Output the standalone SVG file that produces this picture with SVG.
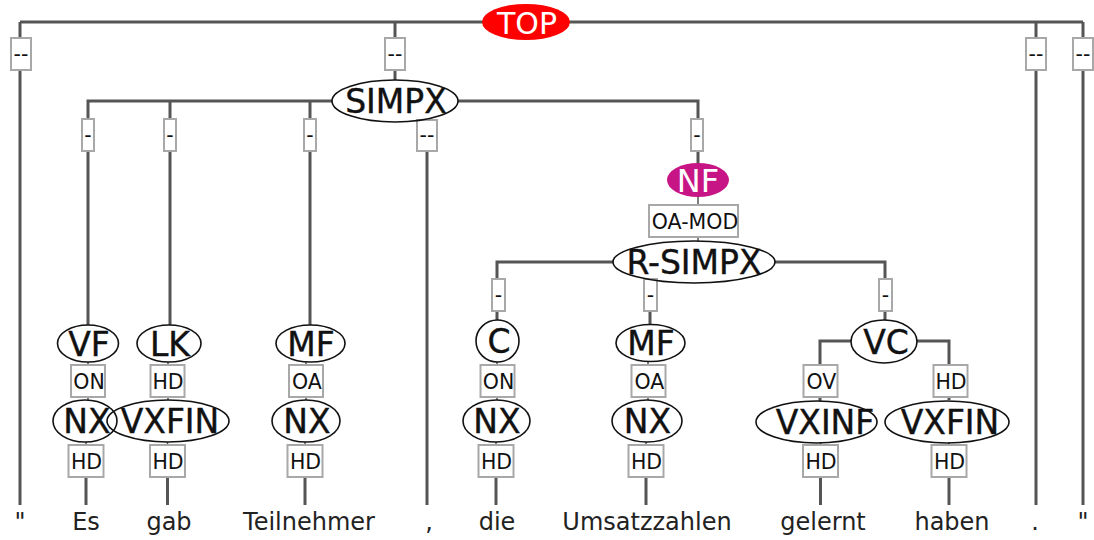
<svg xmlns="http://www.w3.org/2000/svg" width="1094" height="540" viewBox="0 0 1094 540">
<style>
.ln{stroke:#555;stroke-width:3;fill:none}
.th{stroke:#555;stroke-width:1.5;fill:none}
.box{fill:#fff;stroke:#a8a8a8;stroke-width:2}
.el{fill:none;stroke:#111;stroke-width:1.6}
.nl{font-family:"DejaVu Sans","Liberation Sans",sans-serif;font-size:33px;text-anchor:middle;fill:#111;stroke:#111;stroke-width:0.4}
.wl{font-family:"DejaVu Sans","Liberation Sans",sans-serif;font-size:32px;text-anchor:middle;fill:#fff}
.el-t{font-family:"DejaVu Sans","Liberation Sans",sans-serif;font-size:20.5px;text-anchor:middle;fill:#111}
.w{font-family:"DejaVu Sans","Liberation Sans",sans-serif;font-size:24px;text-anchor:middle;fill:#222}
</style>
<rect width="1094" height="540" fill="#fff"/>
<g id="connectors">
<path class="ln" d="M20,22 H1083"/>
<path class="ln" d="M20,22 V505"/>
<path class="ln" d="M395,22 V80"/>
<path class="ln" d="M1036,22 V505"/>
<path class="ln" d="M1083,22 V505"/>
<path class="ln" d="M88,325 V101 H332"/>
<path class="ln" d="M458,101 H698 V163"/>
<path class="ln" d="M170,101 V325"/>
<path class="ln" d="M310,101 V325"/>
<path class="ln" d="M427,119 V505"/>
<path class="th" d="M698,197 V241"/>
<path class="ln" d="M497,320 V262 H613"/>
<path class="ln" d="M775,262 H885 V320"/>
<path class="ln" d="M650,282 V324"/>
<path class="ln" d="M820,401 V341 H851"/>
<path class="ln" d="M917,341 H949 V400"/>
<path class="th" d="M88,362 V400"/>
<path class="th" d="M168,362 V400"/>
<path class="th" d="M306,362 V400"/>
<path class="th" d="M497,362 V400"/>
<path class="th" d="M648,362 V400"/>
<path class="th" d="M86,442 V477"/>
<path class="th" d="M167.5,442 V477"/>
<path class="th" d="M305,442 V477"/>
<path class="th" d="M496,442 V477"/>
<path class="th" d="M646,442 V477"/>
<path class="th" d="M820.5,442 V477"/>
<path class="th" d="M949,442 V477"/>
<path class="ln" d="M86,477 V505"/>
<path class="ln" d="M167.5,477 V505"/>
<path class="ln" d="M305,477 V505"/>
<path class="ln" d="M496,477 V505"/>
<path class="ln" d="M646,477 V505"/>
<path class="ln" d="M820.5,477 V505"/>
<path class="ln" d="M949,477 V505"/>
</g>
<g id="edge-labels">
<g id="e-top-q1"><rect class="box" x="11" y="38" width="20" height="32"/><text class="el-t" x="21" y="61">--</text></g>
<g id="e-top-simpx"><rect class="box" x="385" y="38" width="20" height="32"/><text class="el-t" x="395" y="61">--</text></g>
<g id="e-top-dot"><rect class="box" x="1026" y="38" width="20" height="32"/><text class="el-t" x="1036" y="61">--</text></g>
<g id="e-top-q2"><rect class="box" x="1073" y="38" width="20" height="32"/><text class="el-t" x="1083" y="61">--</text></g>
<g id="e-simpx-vf"><rect class="box" x="82" y="119" width="12" height="32"/><text class="el-t" x="88" y="142">-</text></g>
<g id="e-simpx-lk"><rect class="box" x="164" y="119" width="12" height="32"/><text class="el-t" x="170" y="142">-</text></g>
<g id="e-simpx-mf"><rect class="box" x="304" y="119" width="12" height="32"/><text class="el-t" x="310" y="142">-</text></g>
<g id="e-simpx-comma"><rect class="box" x="417" y="120" width="20" height="31"/><text class="el-t" x="427" y="142">--</text></g>
<g id="e-simpx-nf"><rect class="box" x="691" y="119" width="12" height="32"/><text class="el-t" x="697" y="142">-</text></g>
<g id="e-nf-rsimpx"><rect class="box" x="649" y="205" width="89" height="32"/><text class="el-t" x="695" y="228.5">OA-MOD</text></g>
<g id="e-rs-c"><rect class="box" x="492" y="279" width="13" height="32"/><text class="el-t" x="498.5" y="302">-</text></g>
<g id="e-rs-mf"><rect class="box" x="644" y="279" width="13" height="32"/><text class="el-t" x="650.5" y="302">-</text></g>
<g id="e-rs-vc"><rect class="box" x="879" y="279" width="13" height="32"/><text class="el-t" x="885.5" y="302">-</text></g>
<g id="e-vf-nx"><rect class="box" x="71" y="365" width="34" height="32"/><text class="el-t" x="89" y="388.5">ON</text></g>
<g id="e-lk-vxfin"><rect class="box" x="150.5" y="365" width="34" height="32"/><text class="el-t" x="168" y="388.5">HD</text></g>
<g id="e-mf-nx"><rect class="box" x="289" y="365" width="34" height="32"/><text class="el-t" x="307" y="388.5">OA</text></g>
<g id="e-c-nx"><rect class="box" x="480.5" y="365" width="34" height="32"/><text class="el-t" x="498.5" y="388.5">ON</text></g>
<g id="e-mf2-nx"><rect class="box" x="631.5" y="365" width="34" height="32"/><text class="el-t" x="649.5" y="388.5">OA</text></g>
<g id="e-vc-vxinf"><rect class="box" x="803.5" y="365" width="34" height="32"/><text class="el-t" x="821.5" y="388.5">OV</text></g>
<g id="e-vc-vxfin"><rect class="box" x="933.5" y="365" width="34" height="32"/><text class="el-t" x="951" y="388.5">HD</text></g>
<g id="e-hd1"><rect class="box" x="68.5" y="445" width="35" height="32"/><text class="el-t" x="86.5" y="468.5">HD</text></g>
<g id="e-hd2"><rect class="box" x="150" y="445" width="35" height="32"/><text class="el-t" x="168" y="468.5">HD</text></g>
<g id="e-hd3"><rect class="box" x="287.5" y="445" width="35" height="32"/><text class="el-t" x="305.5" y="468.5">HD</text></g>
<g id="e-hd4"><rect class="box" x="478.5" y="445" width="35" height="32"/><text class="el-t" x="496.5" y="468.5">HD</text></g>
<g id="e-hd5"><rect class="box" x="628.5" y="445" width="35" height="32"/><text class="el-t" x="646.5" y="468.5">HD</text></g>
<g id="e-hd6"><rect class="box" x="803" y="445" width="35" height="32"/><text class="el-t" x="821" y="468.5">HD</text></g>
<g id="e-hd7"><rect class="box" x="931.5" y="445" width="35" height="32"/><text class="el-t" x="949.5" y="468.5">HD</text></g>
</g>
<g id="n-top"><ellipse cx="526" cy="22" rx="44" ry="18" fill="#f00"/><text class="wl" x="527" y="33.5" style="font-size:30px">TOP</text></g>
<g id="n-simpx"><ellipse class="el" cx="395" cy="101" rx="63" ry="21"/><text class="nl" x="396" y="113">SIMPX</text></g>
<g id="n-nf"><ellipse cx="698" cy="180" rx="31" ry="17" fill="#c71585"/><text class="wl" x="698" y="191.5">NF</text></g>
<g id="n-rsimpx"><ellipse class="el" cx="694" cy="262" rx="81" ry="21"/><text class="nl" x="694" y="274">R-SIMPX</text></g>
<g id="n-vf"><ellipse class="el" cx="88" cy="343.5" rx="30.5" ry="18.5"/><text class="nl" x="89" y="355.5">VF</text></g>
<g id="n-lk"><ellipse class="el" cx="169" cy="343.5" rx="32" ry="18.5"/><text class="nl" x="170" y="355.5">LK</text></g>
<g id="n-mf1"><ellipse class="el" cx="310.5" cy="343.5" rx="34.5" ry="18.5"/><text class="nl" x="311" y="355.5">MF</text></g>
<g id="n-c"><ellipse class="el" cx="497.5" cy="341" rx="21.5" ry="21"/><text class="nl" x="499" y="353">C</text></g>
<g id="n-mf2"><ellipse class="el" cx="650.5" cy="343" rx="34.5" ry="18.5"/><text class="nl" x="651" y="355">MF</text></g>
<g id="n-vc"><ellipse class="el" cx="884" cy="341.5" rx="33" ry="21.5"/><text class="nl" x="886" y="353.5">VC</text></g>
<g id="n-nx1"><ellipse class="el" cx="85" cy="421" rx="32" ry="21"/><text class="nl" x="87" y="433">NX</text></g>
<g id="n-vxfin1"><ellipse class="el" cx="168" cy="421" rx="61" ry="21"/><text class="nl" x="170" y="433">VXFIN</text></g>
<g id="n-nx2"><ellipse class="el" cx="306" cy="421" rx="34" ry="21"/><text class="nl" x="307" y="433">NX</text></g>
<g id="n-nx3"><ellipse class="el" cx="496.5" cy="421" rx="33.5" ry="21"/><text class="nl" x="497" y="433">NX</text></g>
<g id="n-nx4"><ellipse class="el" cx="647" cy="421" rx="35" ry="21"/><text class="nl" x="647.5" y="433">NX</text></g>
<g id="n-vxinf"><ellipse class="el" cx="816.5" cy="422" rx="60.5" ry="21"/><text class="nl" x="825" y="434">VXINF</text></g>
<g id="n-vxfin2"><ellipse class="el" cx="947" cy="422" rx="62" ry="21"/><text class="nl" x="950" y="434">VXFIN</text></g>
<g id="words">
<text class="w" x="20" y="530">"</text>
<text class="w" x="86" y="530">Es</text>
<text class="w" x="169" y="530">gab</text>
<text class="w" x="309" y="530">Teilnehmer</text>
<text class="w" x="429" y="530">,</text>
<text class="w" x="497" y="530">die</text>
<text class="w" x="647" y="530">Umsatzzahlen</text>
<text class="w" x="823" y="530">gelernt</text>
<text class="w" x="952" y="530">haben</text>
<text class="w" x="1035" y="530">.</text>
<text class="w" x="1083" y="530">"</text>
</g>
</svg>
